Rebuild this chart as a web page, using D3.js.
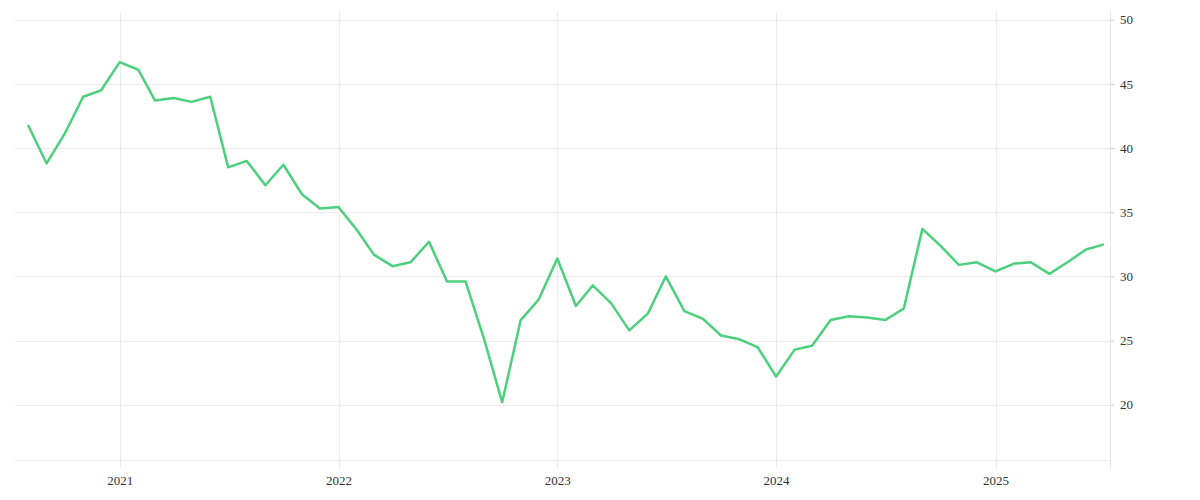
<!DOCTYPE html>
<html>
<head>
<meta charset="utf-8">
<script src="https://cdn.jsdelivr.net/npm/d3@7"></script>
<style>
  body { margin: 0; background: #fff; }
  text { font-family: "Liberation Serif", serif; font-size: 13px; fill: #333; }
</style>
</head>
<body>
<svg id="chart" width="1200" height="500"></svg>
<script>
// monthly values, Aug 2020 .. Jul 2025
var startMonth = [2020, 7];
var values = [41.8, 38.8, 41.1, 44.0, 44.5,
  46.7, 46.1, 43.7, 43.9, 43.6, 44.0, 38.5, 39.0, 37.1, 38.7, 36.4, 35.3,
  35.4, 33.6, 31.7, 30.8, 31.1, 32.7, 29.6, 29.6, 25.1, 20.2, 26.6, 28.2,
  31.4, 27.7, 29.3, 27.9, 25.8, 27.1, 30.0, 27.3, 26.7, 25.4, 25.1, 24.5,
  22.2, 24.3, 24.6, 26.6, 26.9, 26.8, 26.6, 27.5, 33.7, 32.4, 30.9, 31.1,
  30.4, 31.0, 31.1, 30.2, 31.1, 32.1, 32.5];
var yTicks = [20, 25, 30, 35, 40, 45, 50];
var xTicks = [2021, 2022, 2023, 2024, 2025];

var data = values.map(function(v, i) {
  return {date: new Date(startMonth[0], startMonth[1] + i, 1), value: v};
});

var svg = d3.select("#chart");
var pLeft = 15, pRight = 1110, pTop = 12, pBottom = 460;

var x = d3.scaleTime()
  .domain([new Date(2020, 7, 1), new Date(2025, 6, 1)])
  .range([28, 1104]);
var y = d3.scaleLinear().domain([15.7, 50.6]).range([pBottom, pTop]);

// grid
svg.append("g").selectAll("line").data(yTicks).enter().append("line")
  .attr("x1", pLeft).attr("x2", pRight)
  .attr("y1", function(d) { return Math.round(y(d)) + 0.5; })
  .attr("y2", function(d) { return Math.round(y(d)) + 0.5; })
  .attr("stroke", "#ececec");
svg.append("line").attr("x1", pLeft).attr("x2", pRight)
  .attr("y1", pBottom + 0.5).attr("y2", pBottom + 0.5).attr("stroke", "#ececec");
svg.append("g").selectAll("line").data(xTicks).enter().append("line")
  .attr("x1", function(d) { return Math.round(x(new Date(d, 0, 1))) + 0.5; })
  .attr("x2", function(d) { return Math.round(x(new Date(d, 0, 1))) + 0.5; })
  .attr("y1", pTop).attr("y2", 468)
  .attr("stroke", "#ececec");

// right axis
var yAxis = d3.axisRight(y).tickValues(yTicks).tickSize(4).tickPadding(6);
var ya = svg.append("g").attr("transform", "translate(" + pRight + ",0)").call(yAxis);
ya.select(".domain").attr("stroke", "#e2e2e2").attr("d", "M0.5," + pTop + "V468");
ya.selectAll(".tick line").attr("stroke", "#ccc");
ya.selectAll("text").style("font-size", "13px").style("fill", "#333").style("font-family", "Liberation Serif, serif");

// bottom labels
var xAxis = d3.axisBottom(x).tickValues(xTicks.map(function(d) { return new Date(d, 0, 1); }))
  .tickFormat(d3.timeFormat("%Y")).tickSize(0).tickPadding(16);
var xa = svg.append("g").attr("transform", "translate(0," + pBottom + ")").call(xAxis);
xa.select(".domain").remove();
xa.selectAll("text").style("font-size", "13px").style("fill", "#333").style("font-family", "Liberation Serif, serif");

// line
svg.append("path").datum(data)
  .attr("fill", "none").attr("stroke", "#4cd07d").attr("stroke-width", 2.5)
  .attr("stroke-linejoin", "round")
  .attr("d", d3.line().x(function(d) { return x(d.date); }).y(function(d) { return y(d.value); }));
</script>
</body>
</html>
